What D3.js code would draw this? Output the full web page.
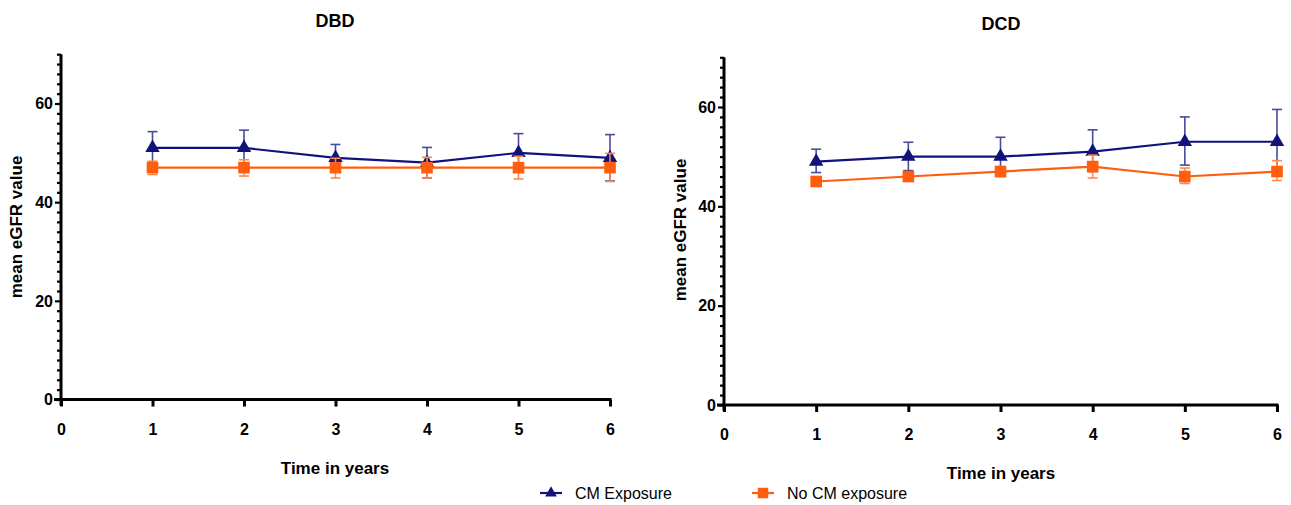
<!DOCTYPE html>
<html>
<head>
<meta charset="utf-8">
<script src="https://cdn.jsdelivr.net/npm/d3@7"></script>
<style>
  body { margin: 0; background: #fff; }
  text { font-family: "Liberation Sans", Arial, sans-serif; }
</style>
</head>
<body>
<div id="chart"></div>
<script>
// data
var years = [1, 2, 3, 4, 5, 6];
var xTicks = [0, 1, 2, 3, 4, 5, 6];
var yTicks = [0, 20, 40, 60];

var dbdCM = [51, 51, 49, 48, 50, 49];
var dbdCMLow = [47.7, 47.4, 46.3, 44.9, 46.1, 44.3];
var dbdCMHigh = [54.3, 54.6, 51.7, 51.1, 53.9, 53.7];
var dbdNoCM = [47, 47, 47, 47, 47, 47];
var dbdNoCMLow = [45.6, 45.3, 44.9, 44.9, 44.7, 44.2];
var dbdNoCMHigh = [48.3, 48.6, 48.9, 49.1, 49.3, 49.9];

var dcdCM = [49, 50, 50, 51, 53, 53];
var dcdCMLow = [46.8, 47.2, 46.3, 47.0, 48.3, 46.6];
var dcdCMHigh = [51.5, 52.9, 53.9, 55.4, 58.0, 59.5];
var dcdNoCM = [45, 46, 47, 48, 46, 47];
var dcdNoCMLow = [44.3, 45.2, 46.0, 45.7, 44.6, 45.2];
var dcdNoCMHigh = [45.7, 46.8, 48.0, 50.3, 47.7, 49.2];

var navy = "#12127c";
var navyBar = "#4a4a9e";
var orange = "#ff5e0e";
var orangeBar = "#ff8a4a";

var svg = d3.select("#chart").append("svg")
  .attr("width", 1291)
  .attr("height", 505);

function drawPanel(p) {
  var x = d3.scaleLinear().domain([0, 6]).range([p.left, p.right]);
  var y = d3.scaleLinear().domain([0, 70]).range([p.bottom, p.bottom - 70 * p.unit]);
  var g = svg.append("g");

  // y axis with minor ticks every 2
  var yAxis = g.append("g")
    .attr("transform", `translate(${p.left},0)`)
    .call(d3.axisLeft(y).tickValues(d3.range(0, 71, 2)).tickSize(4).tickFormat(""));
  yAxis.selectAll(".tick line").attr("stroke-width", 2.2);
  yAxis.selectAll(".tick").filter(d => yTicks.includes(d)).select("line").attr("x2", -6);
  yAxis.select(".domain").remove();
  g.append("line")
    .attr("x1", p.left).attr("x2", p.left)
    .attr("y1", y(70)).attr("y2", p.bottom + 6)
    .attr("stroke", "#000").attr("stroke-width", 3);

  yTicks.forEach(function(v) {
    g.append("text")
      .attr("x", p.left - 8).attr("y", y(v)).attr("dy", "0.36em")
      .attr("text-anchor", "end")
      .style("font-size", "16px").style("font-weight", "bold")
      .text(v);
  });

  // x axis
  var xAxis = g.append("g")
    .attr("transform", `translate(0,${p.bottom})`)
    .call(d3.axisBottom(x).tickValues(xTicks).tickFormat(d3.format("d")).tickSize(7).tickPadding(17));
  xAxis.select(".domain").remove();
  xAxis.selectAll(".tick line").attr("stroke-width", 3);
  xAxis.selectAll(".tick text")
    .style("font-size", "16px").style("font-weight", "bold")
    .style("font-family", "Liberation Sans, Arial, sans-serif");
  g.append("line")
    .attr("x1", p.left - 7).attr("x2", p.right + 1.5)
    .attr("y1", p.bottom).attr("y2", p.bottom)
    .attr("stroke", "#000").attr("stroke-width", 3);

  // titles
  g.append("text")
    .attr("x", p.titleX).attr("y", p.titleY)
    .attr("text-anchor", "middle")
    .style("font-size", "18px").style("font-weight", "bold")
    .text(p.title);
  g.append("text")
    .attr("x", p.titleX).attr("y", p.xLabelY)
    .attr("text-anchor", "middle")
    .style("font-size", "17px").style("font-weight", "bold")
    .text("Time in years");
  g.append("text")
    .attr("transform", `translate(${p.yLabelX},${p.yLabelY}) rotate(-90)`)
    .attr("text-anchor", "middle")
    .attr("dy", "0.36em")
    .style("font-size", "17px").style("font-weight", "bold")
    .text("mean eGFR value");

  // series
  p.series.forEach(function(s) {
    var rows = years.map((yr, i) => ({ yr: yr, v: s.values[i], lo: s.low[i], hi: s.high[i] }));
    var sg = g.append("g");

    sg.selectAll(".bar").data(rows).enter().append("line")
      .attr("x1", d => x(d.yr)).attr("x2", d => x(d.yr))
      .attr("y1", d => y(d.lo)).attr("y2", d => y(d.hi))
      .attr("stroke", s.barColor).attr("stroke-width", 1.6);
    [ "lo", "hi" ].forEach(function(k) {
      sg.selectAll(".cap" + k).data(rows).enter().append("line")
        .attr("x1", d => x(d.yr) - 5).attr("x2", d => x(d.yr) + 5)
        .attr("y1", d => y(d[k])).attr("y2", d => y(d[k]))
        .attr("stroke", s.barColor).attr("stroke-width", 1.6);
    });

    sg.append("path")
      .datum(rows)
      .attr("fill", "none")
      .attr("stroke", s.color)
      .attr("stroke-width", 2.2)
      .attr("d", d3.line().x(d => x(d.yr)).y(d => y(d.v)));

    sg.selectAll(".mark").data(rows).enter().append("path")
      .attr("transform", d => `translate(${x(d.yr)},${y(d.v)})`)
      .attr("d", d3.symbol().type(s.symbol).size(s.symbolSize))
      .attr("fill", s.color);
  });
}

function seriesFor(cm, cmLo, cmHi, no, noLo, noHi) {
  return [
    { values: cm, low: cmLo, high: cmHi, color: navy, barColor: navyBar, symbol: d3.symbolTriangle, symbolSize: 90 },
    { values: no, low: noLo, high: noHi, color: orange, barColor: orangeBar, symbol: d3.symbolSquare, symbolSize: 135 }
  ];
}

drawPanel({
  left: 61, right: 610, bottom: 399.5, unit: 4.933,
  title: "DBD", titleX: 335, titleY: 27, xLabelY: 474,
  yLabelX: 16, yLabelY: 227,
  series: seriesFor(dbdCM, dbdCMLow, dbdCMHigh, dbdNoCM, dbdNoCMLow, dbdNoCMHigh)
});

drawPanel({
  left: 724, right: 1277, bottom: 405, unit: 4.967,
  title: "DCD", titleX: 1001, titleY: 30, xLabelY: 479,
  yLabelX: 680, yLabelY: 230,
  series: seriesFor(dcdCM, dcdCMLow, dcdCMHigh, dcdNoCM, dcdNoCMLow, dcdNoCMHigh)
});

// legend
var legendItems = [
  { label: "CM Exposure", color: navy, symbol: d3.symbolTriangle, size: 60, x: 540 },
  { label: "No CM exposure", color: orange, symbol: d3.symbolSquare, size: 110, x: 752 }
];
var legend = svg.append("g").attr("transform", "translate(0,493)");
legendItems.forEach(function(d) {
  legend.append("line")
    .attr("x1", d.x).attr("x2", d.x + 22)
    .attr("stroke", d.color).attr("stroke-width", 2.2);
  legend.append("path")
    .attr("transform", `translate(${d.x + 11},0)`)
    .attr("d", d3.symbol().type(d.symbol).size(d.size))
    .attr("fill", d.color);
  legend.append("text")
    .attr("x", d.x + 35).attr("dy", "0.36em")
    .style("font-size", "16px")
    .text(d.label);
});
</script>
</body>
</html>
